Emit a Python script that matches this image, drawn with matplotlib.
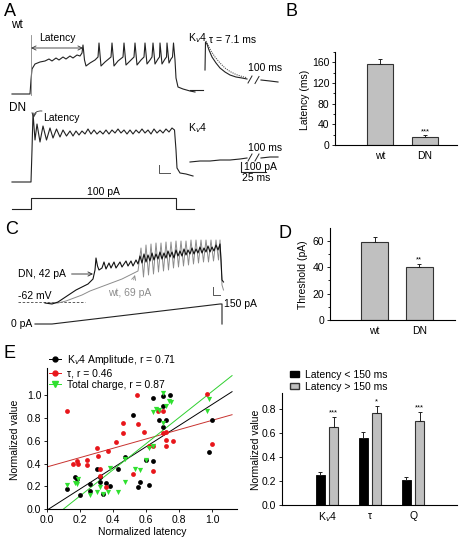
import numpy as np
import matplotlib.pyplot as plt
from matplotlib.lines import Line2D
from matplotlib.patches import Patch

plt.rcParams['font.family'] = ['Liberation Sans', 'DejaVu Sans']
plt.rcParams['font.size'] = 7.5
plt.rcParams['axes.linewidth'] = 0.8

# ---- A: current-clamp traces (ms, mV) ----
wt_t = [4, 40, 42, 44, 50, 60, 70, 78, 84, 92, 98, 106, 112, 120, 126, 134, 140, 144,
        146, 149, 152, 160, 170, 176, 178, 182, 190, 202, 204, 208, 216, 226, 228, 232,
        240, 248, 250, 254, 262, 268, 270, 274, 280, 284, 286, 290, 296, 299, 300, 304,
        310, 313, 314, 318, 322, 325, 327, 330, 332, 336, 346, 360, 370]
wt_mv = [-62, -62, -48, -37, -32, -30, -29, -27, -29, -26, -28, -25, -27, -24, -26, -23, -24, -21,
         -13, -28, -34, -31, -28, -25, -11, -34, -30, -25, -11, -34, -29, -25, -11, -33,
         -29, -25, -11, -33, -28, -25, -11, -32, -28, -25, -11, -32, -27, -25, -11, -32,
         -27, -25, -11, -31, -27, -25, -11, -28, -46, -55, -57, -59, -60]

dn_t = [4, 42, 44, 46, 50, 54, 60, 66, 73, 80, 86, 93, 100, 106, 113, 120, 126, 132, 138,
        144, 150, 156, 162, 168, 174, 180, 186, 192, 198, 204, 210, 216, 222, 228, 234, 240,
        246, 252, 258, 264, 270, 276, 282, 288, 294, 300, 306, 312, 318, 324, 329, 332, 334,
        340, 352, 366]
dn_mv = [-62, -62, -30, 7, -20, -4, -22, -6, -20, -8, -18, -9, -17, -10, -16, -11, -16, -11, -15,
         -11, -14, -9, -14, -10, -14, -11, -14, -10, -14, -10, -13, -9, -13, -10, -14, -10,
         -14, -10, -13, -9, -13, -10, -14, -9, -13, -10, -13, -9, -12, -8, -10, -30, -48,
         -53, -54, -56]

step_t = [4, 42, 42, 332, 332, 368]
step_pa = [0, 0, 100, 100, 0, 0]

# Kv4 currents (ms, pA)
k4wt_t = [15, 15.5, 17, 19, 22, 26, 30, 35, 40, 46, 52, 57]
k4wt_pa = [200, 480, 460, 400, 330, 270, 220, 180, 150, 130, 120, 110]
k4wt_t2 = [71, 80, 88]
k4wt_pa2 = [100, 90, 80]
fit_t = [16, 18, 21, 25, 30, 35, 40, 46, 52, 57]
fit_pa = [490, 450, 390, 330, 270, 220, 185, 155, 135, 122]
k4dn_t = [0, 10, 20, 30, 40, 50, 57]
k4dn_pa = [80, 90, 90, 100, 100, 110, 120]
k4dn_t2 = [71, 80, 88]
k4dn_pa2 = [120, 130, 130]

# ---- C: ramp traces (ms, mV) ----
cdn_t = [120, 148, 172, 196, 220, 244, 268, 292, 312, 320, 324, 330, 336, 348, 356, 364, 376, 384,
         396, 404, 420, 428, 444, 452, 464, 472, 484, 492,
         500, 508, 516, 524, 532, 540, 548, 556, 564, 572, 580, 588, 596, 604, 612, 620, 628,
         636, 644, 652, 660, 668, 676, 684, 692, 700, 708, 716, 724, 732, 740, 748, 756, 764,
         772, 780, 788, 796, 804, 812, 820, 824, 828, 834]
cdn_mv = [-63, -64, -62, -58, -54, -50, -47, -44, -39, -30, -18, -26, -30, -28, -22, -29, -23, -28,
          -22, -28, -22, -27, -21, -26, -21, -26, -20, -24,
          -16, -23, -14, -22, -15, -21, -13, -20, -14, -19, -12, -19, -13, -18, -11, -17, -12,
          -18, -10, -16, -11, -16, -9, -15, -10, -14, -8, -14, -9, -13, -7, -13, -8, -12,
          -6, -12, -7, -11, -5, -10, -4, -20, -40, -42]

cwt_t = [140, 172, 204, 236, 268, 300, 332, 364, 396, 428, 452, 476, 492,
         504, 514, 524, 534, 544, 554, 564, 574, 584, 594, 604, 614, 624, 634, 644, 654,
         664, 674, 684, 694, 704, 714, 724, 734, 744, 754, 764, 774, 784, 794, 804, 814,
         820, 824, 828, 834]
cwt_mv = [-63, -63, -61, -58, -55, -51, -48, -45, -42, -39, -36, -33, -31,
          -8, -37, -5, -35, -4, -34, -3, -32, -3, -31, -2, -30, -2, -28, -1, -27,
          -1, -26, -1, -25, 0, -24, 0, -23, 0, -22, 0, -22, 0, -21, 0, -20,
          0, -20, -45, -50]

ramp_t = [80, 148, 820, 828, 828]
ramp_pa = [0, 0, 150, 150, 0]

# ---- B, D bars ----
groups = ['wt', 'DN']
latency = [156, 15]
latency_err = [11, 3.5]
threshold = [59, 40]
threshold_err = [4, 2.5]

# ---- E scatter ----
amp_x = [0.12, 0.17, 0.18, 0.20, 0.26, 0.26, 0.30, 0.32, 0.32, 0.34, 0.36, 0.38, 0.43, 0.47,
         0.52, 0.55, 0.56, 0.60, 0.62, 0.64, 0.68, 0.70, 0.72, 0.98, 1.00, 0.64, 0.70, 0.70, 0.745]
amp_y = [0.18, 0.28, 0.26, 0.12, 0.22, 0.16, 0.35, 0.24, 0.28, 0.13, 0.23, 0.20, 0.35, 0.46,
         0.83, 0.19, 0.24, 0.43, 0.21, 0.42, 0.78, 0.72, 0.78, 0.50, 0.78, 0.98, 0.99, 0.91, 1.00]
tau_x = [0.12, 0.16, 0.18, 0.19, 0.24, 0.24, 0.30, 0.31, 0.32, 0.32, 0.36, 0.37, 0.42, 0.46,
         0.46, 0.52, 0.55, 0.59, 0.62, 0.64, 0.64, 0.70, 0.72, 0.72, 0.72, 0.76, 1.00, 0.545,
         0.67, 0.97, 0.70]
tau_y = [0.86, 0.40, 0.42, 0.40, 0.43, 0.39, 0.54, 0.47, 0.35, 0.29, 0.19, 0.51, 0.59, 0.76,
         0.67, 0.31, 0.75, 0.68, 0.55, 0.33, 0.55, 0.86, 0.68, 0.61, 0.55, 0.60, 0.57, 1.00,
         0.86, 1.01, 0.67]
q_x = [0.12, 0.17, 0.18, 0.19, 0.26, 0.30, 0.32, 0.34, 0.37, 0.38, 0.43, 0.47, 0.47, 0.53,
       0.56, 0.60, 0.62, 0.64, 0.68, 0.70, 0.72, 0.74, 0.97, 0.98, 0.66, 0.70, 0.75, 0.64]
q_y = [0.21, 0.23, 0.22, 0.26, 0.12, 0.15, 0.19, 0.13, 0.15, 0.36, 0.15, 0.24, 0.44, 0.35,
       0.34, 0.43, 0.54, 0.55, 0.87, 0.76, 0.91, 0.95, 0.86, 0.97, 0.88, 1.02, 0.94, 0.85]
fit_amp = (0.93, -0.01)
fit_tau = (0.41, 0.37)
fit_q = (1.15, -0.115)

# ---- E bars ----
params = ['K$_v$4', 'τ', 'Q']
short_lat = [0.25, 0.56, 0.21]
short_err = [0.02, 0.05, 0.02]
long_lat = [0.65, 0.76, 0.70]
long_err = [0.08, 0.06, 0.07]
long_stars = ['***', '*', '***']

W, H = 460, 540
fig = plt.figure(figsize=(4.6, 5.4), dpi=100)


def px_axes(x0, y0, x1, y1, off=True):
    ax = fig.add_axes([x0 / W, 1 - y1 / H, (x1 - x0) / W, (y1 - y0) / H])
    if off:
        ax.axis('off')
    return ax


def ftext(x, y, s, **kw):
    kw.setdefault('va', 'center')
    fig.text(x / W, 1 - y / H, s, **kw)


def style_axes(ax):
    for s in ['top', 'right']:
        ax.spines[s].set_visible(False)
    ax.tick_params(direction='out', length=2.5, width=0.6, labelsize=7.5, pad=1.5)
    ax.tick_params(which='minor', length=1.5, width=0.6)


# panel letters
for letter, x, y in [('A', 10, 11), ('B', 292, 11), ('C', 12, 230), ('D', 285, 233), ('E', 10, 354)]:
    ftext(x, y, letter, fontsize=13, ha='center')
ftext(17, 25, 'wt', fontsize=8.5, ha='center')
ftext(18, 108, 'DN', fontsize=8.5, ha='center')

# A wt trace
ax = px_axes(10, 30, 200, 100)
ax.set(xlim=(0, 380), ylim=(-68, 2))
ax.plot(wt_t, wt_mv, color='#222222', lw=0.8)
ax.plot([42, 42], [-3, -63], color='#888888', lw=0.6, clip_on=False)
ax.annotate('', xy=(42, -16), xytext=(146, -16),
            arrowprops=dict(arrowstyle='<->', lw=0.6, color='#333333', shrinkA=0, shrinkB=0))
ax.text(94, -6, 'Latency', ha='center', va='center', fontsize=7.5)

# A DN trace
ax = px_axes(10, 105, 200, 190)
ax.set(xlim=(0, 380), ylim=(-70, 15))
ax.plot(dn_t, dn_mv, color='#222222', lw=0.8)
ax.annotate('', xy=(47, 2), xytext=(64, 9),
            arrowprops=dict(arrowstyle='->', lw=0.6, color='#333333',
                            connectionstyle='arc3,rad=0.5', shrinkA=0, shrinkB=0))
ax.text(67, 2, 'Latency', ha='left', va='center', fontsize=7.5)
ax.plot([298, 298, 320], [-45, -53, -53], color='#555555', lw=0.7, clip_on=False)

# A stimulus
ax = px_axes(10, 190, 200, 215)
ax.set(xlim=(0, 380), ylim=(-54.5, 172.7))
ax.plot(step_t, step_pa, color='#222222', lw=0.8)
ax.text(186, 155, '100 pA', ha='center', va='center', fontsize=7.5)

# A Kv4 wt
ax = px_axes(185, 30, 290, 95)
ax.set(xlim=(-5, 100), ylim=(-50, 600))
ax.plot([0, 13], [0, 0], color='#222222', lw=0.8)
ax.plot(k4wt_t, k4wt_pa, color='#222222', lw=0.8)
ax.plot(k4wt_t2, k4wt_pa2, color='#222222', lw=0.8)
ax.plot(fit_t, fit_pa, color='#555555', lw=0.8, ls=(0, (1, 1)))
for bx, by in [(60, 105), (67, 100)]:
    ax.plot([bx - 2, bx + 2], [by - 35, by + 35], color='#222222', lw=0.7, clip_on=False)
ftext(188, 38, 'K$_v$4', ha='left')
ftext(209, 40, 'τ = 7.1 ms', ha='left')
ftext(265, 68, '100 ms', ha='center')

# A Kv4 DN
ax = px_axes(185, 135, 290, 180)
ax.set(xlim=(-5, 100), ylim=(-100, 350))
ax.plot(k4dn_t, k4dn_pa, color='#222222', lw=0.8)
ax.plot(k4dn_t2, k4dn_pa2, color='#222222', lw=0.8)
for bx, by in [(60, 125), (67, 125)]:
    ax.plot([bx - 2, bx + 2], [by - 35, by + 35], color='#222222', lw=0.7, clip_on=False)
ax.plot([51, 51, 76], [80, -20, -20], color='#222222', lw=0.8, clip_on=False)
ax.text(54, 30, '100 pA', ha='left', va='center', fontsize=7.5)
ax.text(52, -28, '25 ms', ha='left', va='top', fontsize=7.5)
ftext(188, 128, 'K$_v$4', ha='left')
ftext(265, 148, '100 ms', ha='center')

# B
ax = px_axes(335, 52, 457, 145, off=False)
style_axes(ax)
ax.bar([1, 2], latency, width=0.58, color='#c0c0c0', edgecolor='#333333', lw=0.8)
ax.errorbar([1, 2], latency, yerr=[[0, 0], latency_err], fmt='none', ecolor='#222222',
            elinewidth=0.7, capsize=1.5, capthick=0.7)
ax.set(xlim=(0, 2.71), ylim=(0, 180), xticks=[1, 2], xticklabels=groups)
ax.set_yticks([0, 40, 80, 120, 160])
ax.set_yticks([20, 60, 100, 140, 180], minor=True)
ax.tick_params(axis='x', length=0, pad=4)
ax.text(2, latency[1] + latency_err[1] + 4, '***', ha='center', fontsize=5.5)
ftext(305, 100, 'Latency (ms)', rotation=90, ha='center')

# C traces
ax = px_axes(15, 230, 235, 310)
ax.set(xlim=(0, 880), ylim=(-70, 10))
ax.plot([12, 280], [-62, -62], color='#444444', lw=0.6, ls=(0, (3, 2)))
ax.plot(cwt_t, cwt_mv, color='#8c8c8c', lw=0.7)
ax.plot(cdn_t, cdn_mv, color='#111111', lw=0.8)
ax.plot([792, 792, 820], [-47, -55, -55], color='#555555', lw=0.7, clip_on=False)
ax.annotate('DN, 42 pA', xy=(312, -34), xytext=(204, -34), ha='right', va='center',
            fontsize=7.5, arrowprops=dict(arrowstyle='->', lw=0.6, color='#222222',
                                          shrinkA=2, shrinkB=0))
ax.annotate('wt, 69 pA', xy=(480, -35), xytext=(460, -53), ha='center', va='center',
            fontsize=7.5, color='#8c8c8c',
            arrowprops=dict(arrowstyle='->', lw=0.6, color='#8c8c8c', shrinkA=4, shrinkB=0))
ax.text(12, -56, '-62 mV', ha='left', va='center', fontsize=7.5)

# C ramp
ax = px_axes(15, 295, 235, 330)
ax.set(xlim=(0, 880), ylim=(-45, 217.5))
ax.plot(ramp_t, ramp_pa, color='#222222', lw=0.8)
ax.text(68, 0, '0 pA', ha='right', va='center', fontsize=7.5)
ax.text(836, 150, '150 pA', ha='left', va='center', fontsize=7.5)

# D
ax = px_axes(330, 228, 455, 320, off=False)
style_axes(ax)
ax.bar([1, 2], threshold, width=0.6, color='#c0c0c0', edgecolor='#333333', lw=0.8)
ax.errorbar([1, 2], threshold, yerr=[[0, 0], threshold_err], fmt='none', ecolor='#222222',
            elinewidth=0.7, capsize=1.5, capthick=0.7)
ax.set(xlim=(0, 2.8), ylim=(0, 69.5), xticks=[1, 2], xticklabels=groups)
ax.set_yticks([0, 20, 40, 60])
ax.set_yticks([10, 30, 50], minor=True)
ax.tick_params(axis='x', length=0, pad=4)
ax.text(2, threshold[1] + threshold_err[1] + 2, '**', ha='center', fontsize=5.5)
ftext(303, 275, 'Threshold (pA)', rotation=90, ha='center')

# E scatter
ax = px_axes(47, 368, 237, 509, off=False)
style_axes(ax)
ax.scatter(amp_x, amp_y, s=12, color='black', marker='o', lw=0, zorder=3)
ax.scatter(tau_x, tau_y, s=12, color='#e8161b', marker='o', lw=0, zorder=3)
ax.scatter(q_x, q_y, s=14, color='#2fe02f', marker='v', lw=0, zorder=3)
for (m, b), c, x0 in [(fit_amp, 'black', 0.0), (fit_tau, '#c8322f', 0.0), (fit_q, '#2fd02f', 0.1)]:
    xs = np.array([x0, 1.12])
    ax.plot(xs, m * xs + b, color=c, lw=0.7, zorder=2)
ax.set(xlim=(0, 1.15), ylim=(0, 1.24))
ax.set_xticks([0, 0.2, 0.4, 0.6, 0.8, 1.0])
ax.set_yticks([0, 0.2, 0.4, 0.6, 0.8, 1.0])
ax.xaxis.set_major_formatter(plt.FormatStrFormatter('%.1f'))
ax.yaxis.set_major_formatter(plt.FormatStrFormatter('%.1f'))
ax.set_xlabel('Normalized latency', fontsize=7.5, labelpad=2)
ftext(15, 440, 'Normalized value', rotation=90, ha='center')
handles = [Line2D([], [], color='black', marker='o', ms=3.5, lw=0.7),
           Line2D([], [], color='#e8161b', marker='o', ms=3.5, lw=0.7),
           Line2D([], [], color='#2fe02f', marker='v', ms=4, lw=0.7)]
labels = ['K$_v$4 Amplitude, r = 0.71', 'τ, r = 0.46', 'Total charge, r = 0.87']
ax.legend(handles, labels, loc='upper left', bbox_to_anchor=(49 / W, 1 - 353 / H),
          bbox_transform=fig.transFigure, frameon=False, handlelength=1.2,
          handletextpad=0.5, labelspacing=0.12, fontsize=7.5, borderpad=0, borderaxespad=0)

# E bars
ax = px_axes(282, 393, 457, 505, off=False)
style_axes(ax)
pos = np.arange(1, 4)
ax.bar(pos - 0.16, short_lat, width=0.2, color='black', edgecolor='black', lw=0.6)
ax.bar(pos + 0.15, long_lat, width=0.2, color='#c0c0c0', edgecolor='#333333', lw=0.8)
ax.errorbar(pos - 0.16, short_lat, yerr=[[0] * 3, short_err], fmt='none', ecolor='#222222',
            elinewidth=0.7, capsize=1.5, capthick=0.7)
ax.errorbar(pos + 0.15, long_lat, yerr=[[0] * 3, long_err], fmt='none', ecolor='#222222',
            elinewidth=0.7, capsize=1.5, capthick=0.7)
for p, v, e, s in zip(pos, long_lat, long_err, long_stars):
    ax.text(p + 0.15, v + e + 0.02, s, ha='center', fontsize=5.5)
ax.set(xlim=(-0.05, 4.02), ylim=(0, 0.93), xticks=pos, xticklabels=params)
ax.set_yticks([0, 0.2, 0.4, 0.6, 0.8])
ax.yaxis.set_major_formatter(plt.FormatStrFormatter('%.1f'))
ax.tick_params(axis='x', length=0, pad=4)
ftext(256, 450, 'Normalized value', rotation=90, ha='center')
ax.legend([Patch(facecolor='black', edgecolor='black'),
           Patch(facecolor='#c0c0c0', edgecolor='#333333')],
          ['Latency < 150 ms', 'Latency > 150 ms'], loc='upper left',
          bbox_to_anchor=(290 / W, 1 - 370 / H), bbox_transform=fig.transFigure,
          frameon=False, handlelength=0.9, handleheight=0.5, handletextpad=0.5,
          labelspacing=0.15, fontsize=7.5, borderpad=0, borderaxespad=0)

fig.savefig('out.png', dpi=100)
